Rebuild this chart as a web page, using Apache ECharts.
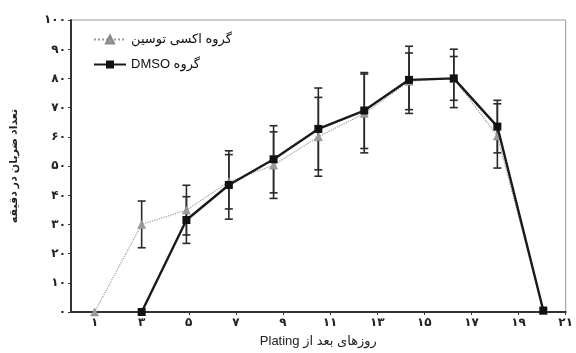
<!DOCTYPE html>
<html><head><meta charset="utf-8">
<script src="https://cdn.jsdelivr.net/npm/echarts@6/dist/echarts.min.js"></script>
<style>html,body{margin:0;padding:0;background:#fff}#c{width:576px;height:353px}</style>
</head><body><div id="c"></div>
<script>
// x positions (days) as read on the linear frame scale
const days = [1, 3, 4.9, 6.7, 8.6, 10.5, 12.45, 14.35, 16.25, 18.1, 20.05];
const oxyMean = [0, 30, 34.9, 44.6, 50.3, 60, 68, 79, 80, 60.3, 0.5];
const oxyErr  = [0, 8, 8.5, 9.3, 11.4, 13.5, 13.5, 9.7, 7.5, 11, 0];
const dmsoMean = [null, 0, 31.5, 43.5, 52.3, 62.7, 69, 79.5, 80, 63.5, 0.5];
const dmsoErr  = [null, 0, 8, 11.7, 11.5, 14, 13, 11.5, 10, 9, 0];
const xTicks = [1, 3, 5, 7, 9, 11, 13, 15, 17, 19, 21];
const oxyName = '\u202Bگروه اکسی توسین\u202C';
const dmsoName = '\u202Bگروه DMSO\u202C';
const xName = '\u202Bروزهای بعد از Plating\u202C';
const yName = '\u202Bتعداد ضربان در دقیقه\u202C';

const fa = n => String(n).replace(/\d/g, d => '۰۱۲۳۴۵۶۷۸۹'[d]);
const FONT = 'Liberation Sans, DejaVu Sans, sans-serif';

function pairs(mean) { return days.map((d, i) => mean[i] == null ? [d, null] : [d, mean[i]]); }
function errData(mean, err) {
  const out = [];
  days.forEach((d, i) => { if (mean[i] != null && err[i] > 0) out.push([d, mean[i] - err[i], mean[i] + err[i]]); });
  return out;
}
function errSeries(data) {
  return {
    type: 'custom', data: data, z: 3, silent: true,
    renderItem: function (params, api) {
      const lo = api.coord([api.value(0), api.value(1)]);
      const hi = api.coord([api.value(0), api.value(2)]);
      const w = 4;
      const st = { stroke: '#2a2a2a', lineWidth: 1.6 };
      return { type: 'group', children: [
        { type: 'line', shape: { x1: lo[0], y1: lo[1], x2: hi[0], y2: hi[1] }, style: st },
        { type: 'line', shape: { x1: lo[0] - w, y1: lo[1], x2: lo[0] + w, y2: lo[1] }, style: st },
        { type: 'line', shape: { x1: hi[0] - w, y1: hi[1], x2: hi[0] + w, y2: hi[1] }, style: st }
      ]};
    }
  };
}

const chart = echarts.init(document.getElementById('c'), null, { renderer: 'canvas' });
chart.setOption({
  animation: false,
  backgroundColor: '#fff',
  grid: { left: 70, right: 9, top: 20, bottom: 41, show: true, borderColor: '#999', borderWidth: 1 },
  legend: {
    left: 88, top: 28, orient: 'vertical', itemGap: 12, itemWidth: 32, itemHeight: 10,
    textStyle: { fontFamily: FONT, fontSize: 13, color: '#111' },
    data: [oxyName, dmsoName]
  },
  xAxis: {
    type: 'value', min: 0, max: 21,
    splitLine: { show: false },
    axisLine: { lineStyle: { color: '#333', width: 2 } },
    axisTick: { show: true, length: 3, customValues: xTicks, lineStyle: { color: '#333' } },
    axisLabel: { customValues: xTicks, formatter: v => fa(v), fontFamily: FONT, fontSize: 12, fontWeight: 'bold', color: '#222', margin: 5 },
    name: xName, nameLocation: 'middle', nameGap: 23,
    nameTextStyle: { fontFamily: FONT, fontSize: 13, color: '#222' }
  },
  yAxis: {
    type: 'value', min: 0, max: 100, interval: 10,
    splitLine: { show: false },
    axisLine: { show: true, lineStyle: { color: '#333', width: 2 } },
    axisTick: { show: true, length: 3, lineStyle: { color: '#333' } },
    axisLabel: { formatter: v => fa(v), fontFamily: FONT, fontSize: 12, fontWeight: 'bold', color: '#222', margin: 5 },
    name: yName, nameLocation: 'middle', nameGap: 52, nameRotate: 90,
    nameTextStyle: { fontFamily: FONT, fontSize: 11, fontWeight: 'bold', color: '#222' }
  },
  series: [
    errSeries(errData(oxyMean, oxyErr)),
    errSeries(errData(dmsoMean, dmsoErr)),
    {
      name: oxyName, type: 'line', data: pairs(oxyMean), z: 4,
      symbol: 'triangle', symbolSize: 8, connectNulls: false,
      lineStyle: { color: '#9a9a9a', width: 1.2, type: 'dotted' },
      itemStyle: { color: '#9a9a9a', borderColor: '#888', borderWidth: 0.5 }
    },
    {
      name: dmsoName, type: 'line', data: pairs(dmsoMean), z: 5,
      symbol: 'rect', symbolSize: 8, connectNulls: false,
      lineStyle: { color: '#1a1a1a', width: 2.4 },
      itemStyle: { color: '#111' }
    }
  ]
});
</script></body></html>
